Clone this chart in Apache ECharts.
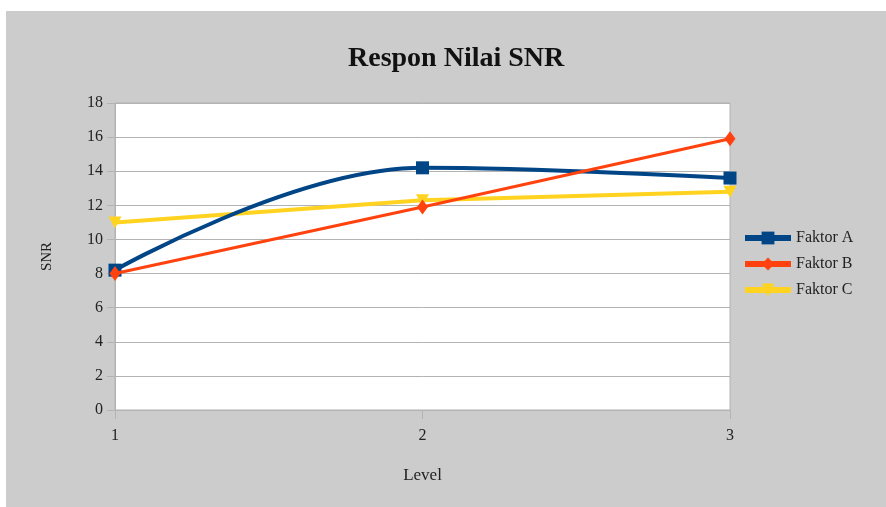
<!DOCTYPE html>
<html><head><meta charset="utf-8">
<script src="https://cdn.jsdelivr.net/npm/echarts@6/dist/echarts.min.js"></script>
<style>
html,body{margin:0;padding:0;background:#fff;}
#wrap{position:relative;width:886px;height:507px;background:#fff;overflow:hidden;}
#chart{position:absolute;left:6px;top:11px;width:880px;height:496px;background:#cccccc;}
</style></head>
<body><div id="wrap"><div id="chart"></div></div>
<script>
const levels = [1, 2, 3];
const faktorA = [8.2, 14.2, 13.6];
const faktorB = [8.0, 11.9, 15.9];
const faktorC = [11.0, 12.3, 12.8];
const yTicks = {min: 0, max: 18, interval: 2};
const seriesNames = ['Faktor A', 'Faktor B', 'Faktor C'];

const toPts = vals => levels.map((x, i) => [x, vals[i]]);
const serif = '"Liberation Serif", "DejaVu Serif", serif';
const chart = echarts.init(document.getElementById('chart'), null, {renderer: 'canvas'});
chart.setOption({
  backgroundColor: '#cccccc',
  animation: false,
  title: {
    text: 'Respon Nilai SNR', left: 337, top: 29,
    textStyle: {fontFamily: serif, fontWeight: 'bold', fontSize: 28, color: '#111'}
  },
  legend: {
    orient: 'vertical', left: 731, top: 214, itemWidth: 46, itemHeight: 16, itemGap: 10,
    textStyle: {fontFamily: serif, fontSize: 16, color: '#222'},
    lineStyle: {width: 6},
    data: seriesNames
  },
  grid: {left: 109, right: 156, top: 92, bottom: 97, show: true, backgroundColor: '#fff', borderColor: '#b3b3b3', borderWidth: 1, containLabel: false},
  xAxis: {
    type: 'value', min: 1, max: 3, interval: 1,
    name: 'Level', nameLocation: 'middle', nameGap: 57,
    nameTextStyle: {fontFamily: serif, fontSize: 17, color: '#222'},
    axisLine: {show: true, lineStyle: {color: '#b3b3b3', width: 1}},
    axisTick: {show: true, length: 9, lineStyle: {color: '#b3b3b3'}},
    axisLabel: {fontFamily: serif, fontSize: 16, color: '#222', margin: 18},
    splitLine: {show: false}
  },
  yAxis: {
    type: 'value', min: yTicks.min, max: yTicks.max, interval: yTicks.interval,
    name: 'SNR', nameLocation: 'middle', nameGap: 60, nameRotate: 90,
    nameTextStyle: {fontFamily: serif, fontSize: 15, color: '#222'},
    axisLine: {show: true, lineStyle: {color: '#b3b3b3', width: 1}},
    axisTick: {show: true, length: 8, lineStyle: {color: '#b3b3b3'}},
    axisLabel: {fontFamily: serif, fontSize: 16, color: '#222', margin: 12},
    splitLine: {show: true, lineStyle: {color: '#b3b3b3', width: 1}}
  },
  series: [
    {name: seriesNames[0], type: 'line', data: toPts(faktorA), smooth: 0.4,
     symbol: 'rect', symbolSize: 13, color: '#004586',
     lineStyle: {width: 4, color: '#004586'}, itemStyle: {color: '#004586'}, z: 3},
    {name: seriesNames[1], type: 'line', data: toPts(faktorB),
     symbol: 'diamond', symbolSize: [11, 15], color: '#ff420e',
     lineStyle: {width: 3, color: '#ff420e'}, itemStyle: {color: '#ff420e'}, z: 4},
    {name: seriesNames[2], type: 'line', data: toPts(faktorC),
     symbol: 'triangle', symbolRotate: 180, symbolSize: [13, 12], color: '#ffd320',
     lineStyle: {width: 4, color: '#ffd320'}, itemStyle: {color: '#ffd320'}, z: 2}
  ]
});
</script></body></html>
